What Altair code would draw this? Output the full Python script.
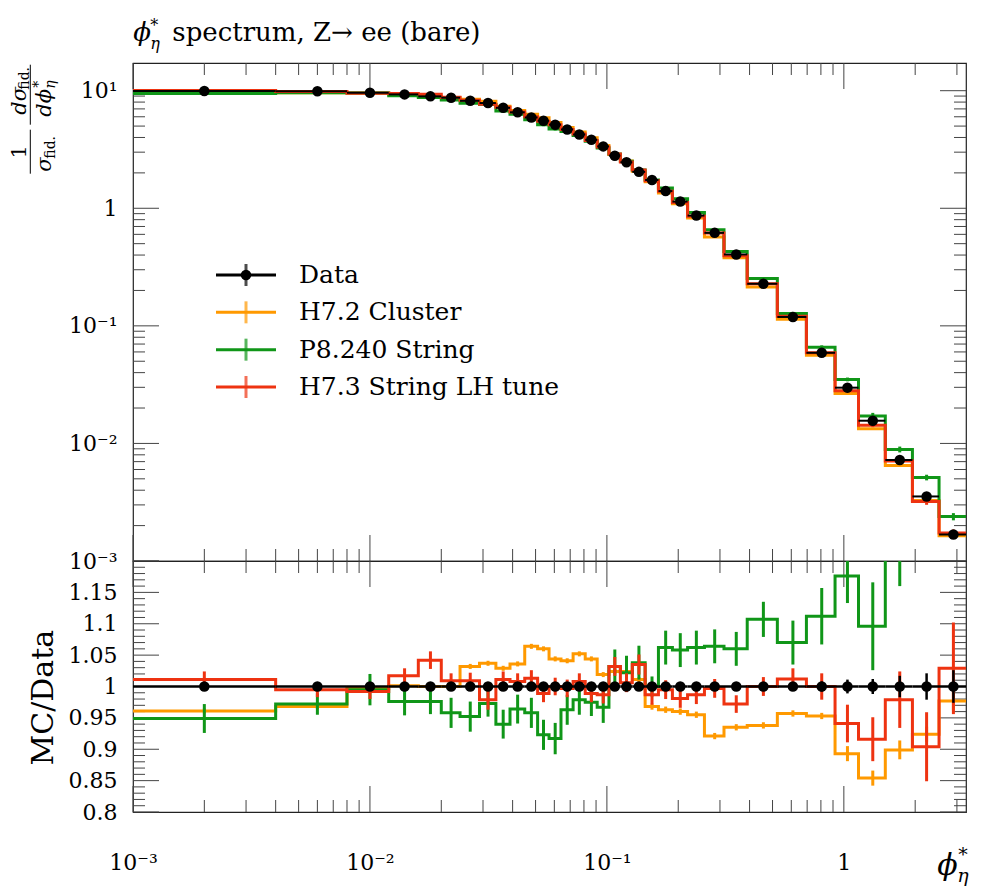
import altair as alt
import pandas as pd

FONT = "DejaVu Serif"

# ---------------- data ----------------
EDGES = [0.0, 0.004, 0.008, 0.012, 0.016, 0.020, 0.024, 0.029, 0.034, 0.039,
         0.045, 0.051, 0.057, 0.064, 0.072, 0.081, 0.091, 0.102, 0.114, 0.128,
         0.145, 0.165, 0.189, 0.219, 0.258, 0.312, 0.391, 0.524, 0.695, 0.918,
         1.153, 1.496, 1.947, 2.522, 3.277]

DATA = [9.95, 9.90, 9.60, 9.30, 8.95, 8.72, 8.20, 7.85, 7.15, 6.55,
        5.92, 5.55, 5.14, 4.68, 4.24, 3.82, 3.36, 2.80, 2.46, 2.04,
        1.74, 1.40, 1.14, 0.867, 0.618, 0.405, 0.228, 0.119, 0.059, 0.0298,
        0.0156, 0.00723, 0.00354, 0.00168]
DATA_RELERR = [0.004] * 26 + [0.005, 0.006, 0.008, 0.011, 0.012, 0.017, 0.021, 0.026]

H72_RATIO = [0.961, 0.968, 0.997, 1.001, 1.000, 1.000, 1.032, 1.037, 1.029, 1.036,
             1.064, 1.060, 1.044, 1.041, 1.052, 1.044, 1.019, 1.024, 1.024, 1.011,
             0.968, 0.963, 0.960, 0.955, 0.921, 0.935, 0.938, 0.957, 0.953, 0.893,
             0.854, 0.899, 0.924, 0.977]
H72_ERR = [0.004] * 20 + [0.005] * 9 + [0.012, 0.012, 0.015, 0.012, 0.015]

P8_RATIO = [0.949, 0.972, 0.995, 0.976, 0.976, 0.958, 0.952, 0.973, 0.940, 0.964,
            0.958, 0.923, 0.917, 0.963, 0.979, 0.975, 0.967, 1.032, 1.022, 1.038,
            1.000, 1.062, 1.058, 1.062, 1.064, 1.060, 1.107, 1.070, 1.112, 1.176,
            1.096, 1.230, 1.450, 1.420]
P8_ERR = [0.023, 0.017, 0.025, 0.022, 0.020, 0.024, 0.024, 0.021, 0.023, 0.023,
          0.024, 0.024, 0.025, 0.024, 0.024, 0.022, 0.025, 0.027, 0.027, 0.027,
          0.016, 0.027, 0.027, 0.027, 0.027, 0.027, 0.028, 0.035, 0.045, 0.043,
          0.070, 0.070, 0.080, 0.100]

H73_RATIO = [1.011, 0.995, 0.992, 1.017, 1.042, 1.009, 1.009, 0.979, 1.011, 1.008,
             1.013, 0.989, 1.000, 0.997, 1.008, 0.989, 0.987, 1.032, 1.006, 1.035,
             0.987, 0.995, 0.981, 0.987, 0.997, 0.972, 1.000, 1.012, 1.000, 0.941,
             0.916, 0.979, 0.904, 1.029]
H73_ERR = [0.013, 0.012, 0.012, 0.012, 0.014, 0.012, 0.013, 0.016, 0.013, 0.013,
           0.013, 0.014, 0.014, 0.014, 0.013, 0.014, 0.014, 0.015, 0.015, 0.016,
           0.016, 0.015, 0.015, 0.015, 0.015, 0.014, 0.015, 0.017, 0.021, 0.030,
           0.035, 0.045, 0.055, 0.073]

SERIES = ["Data", "H7.2 Cluster", "P8.240 String", "H7.3 String LH tune"]
COLORS = ["#000000", "#FF9900", "#109618", "#EE3311"]
MC = {"H7.2 Cluster": (H72_RATIO, H72_ERR),
      "P8.240 String": (P8_RATIO, P8_ERR),
      "H7.3 String LH tune": (H73_RATIO, H73_ERR)}

X_MIN, X_MAX = 0.001, 3.277
Y_MIN, Y_MAX = 0.001, 17.2
R_MIN, R_MAX = 0.8, 1.2
W, H1, H2 = 833, 498, 251
MAJ, MIN_ = 26, 12
OX, OY = 131.7, 59.3          # page position of main plot origin (for text pieces)
RY = OY + H1                   # page y of ratio plot origin

# ---------------- tables ----------------
n = len(DATA)
rows, steps = [], []
for i in range(n):
    lo, hi = max(EDGES[i], X_MIN), EDGES[i + 1]
    ctr = 0.5 * (EDGES[i] + EDGES[i + 1])
    d, de = DATA[i], DATA_RELERR[i]
    rows.append(dict(series="Data", lo=lo, hi=hi, ctr=ctr, val=d, vlo=d * (1 - de),
                     vhi=d * (1 + de), r=1.0, rlo=1 - de, rhi=1 + de))
    for name, (rat, err) in MC.items():
        v = d * rat[i]
        rows.append(dict(series=name, lo=lo, hi=hi, ctr=ctr, val=v, vlo=d * (rat[i] - err[i]),
                         vhi=d * (rat[i] + err[i]), r=rat[i], rlo=rat[i] - err[i], rhi=rat[i] + err[i]))
        steps.append(dict(series=name, x=lo, val=v, r=rat[i]))
        if i == n - 1:
            steps.append(dict(series=name, x=hi, val=v, r=rat[i]))
bins = pd.DataFrame(rows)
stepdf = pd.DataFrame(steps)

xmaj = [0.001, 0.01, 0.1, 1.0]
xmin = [k * 10.0 ** e for e in range(-3, 1) for k in range(2, 10) if k * 10.0 ** e <= X_MAX]
ymaj = [0.001, 0.01, 0.1, 1.0, 10.0]
ymin = [k * 10.0 ** e for e in range(-3, 2) for k in range(2, 10) if k * 10.0 ** e < Y_MAX]
rmaj = [round(0.8 + 0.05 * i, 2) for i in range(9)]
rmin = [round(0.8 + 0.01 * i, 2) for i in range(41) if i % 5 != 0]

ONE = pd.DataFrame({"k": [0]})

# ---------------- scales / helpers ----------------
xs = alt.Scale(type="log", domain=[X_MIN, X_MAX], nice=False)
ys = alt.Scale(type="log", domain=[Y_MIN, Y_MAX], nice=False)
rs = alt.Scale(type="linear", domain=[R_MIN, R_MAX], nice=False, zero=False)
COLOR = alt.Color("series:N", scale=alt.Scale(domain=SERIES, range=COLORS), legend=None)

ymain_axis = alt.Axis(values=ymaj, ticks=False, domain=False, grid=False, title=None,
                      labelFont=FONT, labelFontSize=22, labelPadding=16, labelColor="black",
                      labelExpr="datum.value > 5 ? '10¹' : datum.value > 0.5 ? '1' : "
                                "datum.value > 0.05 ? '10⁻¹' : datum.value > 0.005 ? '10⁻²' : '10⁻³'")
rat_axis = alt.Axis(values=rmaj[:-1], ticks=False, domain=False, grid=False, title=None,
                    labelFont=FONT, labelFontSize=22, labelPadding=16, labelColor="black",
                    format=".3~g")
xr_axis = alt.Axis(values=xmaj, ticks=False, domain=False, grid=False, title=None,
                   labelFont=FONT, labelFontSize=22, labelPadding=40, labelColor="black",
                   labelFlush=False,
                   labelExpr="datum.value > 0.5 ? '1' : datum.value > 0.05 ? '10⁻¹' : "
                             "datum.value > 0.005 ? '10⁻²' : '10⁻³'")


def XM(f):
    return alt.X(f"{f}:Q", scale=xs, axis=None)


def XR(f):
    return alt.X(f"{f}:Q", scale=xs, axis=xr_axis)


def YM(f):
    return alt.Y(f"{f}:Q", scale=ys, axis=ymain_axis)


def YR(f):
    return alt.Y(f"{f}:Q", scale=rs, axis=rat_axis)


def txt(text, x, y, size, angle=0, align="left", italic=False, baseline="alphabetic"):
    return alt.Chart(ONE).mark_text(
        text=text, font=FONT, fontSize=size, angle=angle, align=align, baseline=baseline,
        fontStyle="italic" if italic else "normal", color="black"
    ).encode(x=alt.value(x), y=alt.value(y))


def bar(x1, y1, x2, y2):
    return alt.Chart(ONE).mark_rule(color="black", strokeWidth=1).encode(
        x=alt.value(x1), y=alt.value(y1), x2=alt.value(x2), y2=alt.value(y2))


def tick_layers(xfun, yfun, height, xvals, yvals):
    tx = lambda v: pd.DataFrame({"v": v})
    out = []
    for vals, ln in ((xvals[0], MAJ), (xvals[1], MIN_)):
        out.append(alt.Chart(tx(vals)).mark_rule(color="#444", strokeWidth=1).encode(
            x=xfun("v"), y=alt.value(0), y2=alt.value(ln)))
        out.append(alt.Chart(tx(vals)).mark_rule(color="#444", strokeWidth=1).encode(
            x=xfun("v"), y=alt.value(height), y2=alt.value(height - ln)))
    for vals, ln in ((yvals[0], MAJ), (yvals[1], MIN_)):
        out.append(alt.Chart(tx(vals)).mark_rule(color="#444", strokeWidth=1).encode(
            y=yfun("v"), x=alt.value(0), x2=alt.value(ln)))
        out.append(alt.Chart(tx(vals)).mark_rule(color="#444", strokeWidth=1).encode(
            y=yfun("v"), x=alt.value(W), x2=alt.value(W - ln)))
    return out


# ---------------- main panel ----------------
main_layers = tick_layers(XM, YM, H1, (xmaj, xmin), (ymaj, ymin))
for s in SERIES[1:]:
    main_layers.append(alt.Chart(stepdf).transform_filter(alt.datum.series == s).mark_line(
        interpolate="step-after", strokeWidth=3).encode(x=XM("x"), y=YM("val"), color=COLOR))
    main_layers.append(alt.Chart(bins).transform_filter(alt.datum.series == s).mark_rule(
        strokeWidth=3).encode(x=XM("ctr"), y=YM("vlo"), y2="vhi", color=COLOR))
dat = alt.Chart(bins).transform_filter(alt.datum.series == "Data")
main_layers += [
    dat.mark_rule(strokeWidth=2, color="black").encode(x=XM("lo"), x2="hi", y=YM("val")),
    dat.mark_rule(strokeWidth=2, color="black").encode(x=XM("ctr"), y=YM("vlo"), y2="vhi"),
    dat.mark_circle(size=110, opacity=1, color="black").encode(x=XM("ctr"), y=YM("val")),
]
main_plot = alt.layer(*main_layers)

# legend (inside the main panel)
legdf = pd.DataFrame({"series": SERIES, "idx": [0, 1, 2, 3]})
LY = alt.Y("idx:Q", scale=alt.Scale(domain=[0, 3], range=[212, 324], nice=False, zero=False),
           axis=None)
leg = alt.Chart(legdf)
legend = alt.layer(
    leg.mark_rule(strokeWidth=3).encode(x=alt.value(83), x2=alt.value(143), y=LY, color=COLOR),
    leg.mark_tick(orient="vertical", size=22, thickness=3).encode(x=alt.value(113), y=LY, color=COLOR),
    leg.transform_filter(alt.datum.idx == 0).mark_circle(size=110, opacity=1, color="black").encode(
        x=alt.value(113), y=LY),
    leg.mark_text(align="left", baseline="middle", font=FONT, fontSize=25, color="black").encode(
        x=alt.value(166), y=LY, text="series:N"),
)

# title and y-axis label pieces
deco = [
    txt("ϕ", 132 - OX, 37 - OY, 26, italic=True),
    txt("*", 149 - OX, 27 - OY, 16),
    txt("η", 149 - OX, 45 - OY, 16, italic=True),
    txt("spectrum, Z→ ee (bare)", 171 - OX, 37 - OY, 26),
    # d sigma_fid / d phi*_eta
    bar(29 - OX, 61 - OY, 29 - OX, 121 - OY),
    txt("dσ", 25 - OX, 111 - OY, 21, angle=270, italic=True),
    txt("fid.", 28 - OX, 86 - OY, 14, angle=270),
    txt("dϕ", 50 - OX, 113 - OY, 21, angle=270, italic=True),
    txt("*", 42 - OX, 84 - OY, 14, angle=270),
    txt("η", 54 - OX, 85 - OY, 14, angle=270, italic=True),
    # 1 / sigma_fid
    bar(29 - OX, 126 - OY, 29 - OX, 170 - OY),
    txt("1", 25 - OX, 148 - OY, 21, angle=270, align="center"),
    txt("σ", 50 - OX, 168 - OY, 21, angle=270, italic=True),
    txt("fid.", 54 - OX, 155 - OY, 14, angle=270),
]

main = alt.layer(main_plot, legend, *deco).resolve_scale(y="independent").properties(
    width=W, height=H1)

# ---------------- ratio panel ----------------
rat_layers = tick_layers(XR, YR, H2, (xmaj, xmin), (rmaj, rmin))
for s in SERIES[1:]:
    rat_layers.append(alt.Chart(stepdf).transform_filter(alt.datum.series == s).mark_line(
        interpolate="step-after", strokeWidth=3, clip=True).encode(x=XR("x"), y=YR("r"), color=COLOR))
    rat_layers.append(alt.Chart(bins).transform_filter(alt.datum.series == s).mark_rule(
        strokeWidth=3, clip=True).encode(x=XR("ctr"), y=YR("rlo"), y2="rhi", color=COLOR))
rat_layers += [
    dat.mark_rule(strokeWidth=2.5, color="black").encode(x=XR("lo"), x2="hi", y=YR("r")),
    dat.mark_rule(strokeWidth=2.5, color="black").encode(x=XR("ctr"), y=YR("rlo"), y2="rhi"),
    dat.mark_circle(size=110, opacity=1, color="black").encode(x=XR("ctr"), y=YR("r")),
    txt("MC/Data", 52 - OX, 694 - RY, 30, angle=270, align="center"),
    txt("ϕ", 936 - OX, 871 - RY, 30, italic=True),
    txt("*", 957 - OX, 857 - RY, 19),
    txt("η", 956 - OX, 878 - RY, 19, italic=True),
]
ratio = alt.layer(*rat_layers).properties(width=W, height=H2)

chart = alt.vconcat(main, ratio, spacing=0, bounds="flush").properties(
    padding={"left": 0, "top": 9, "right": 4, "bottom": 0}
).configure_view(stroke="#222", strokeWidth=1.2)

chart.save("out.html", embed_options={"renderer": "svg", "actions": False})
